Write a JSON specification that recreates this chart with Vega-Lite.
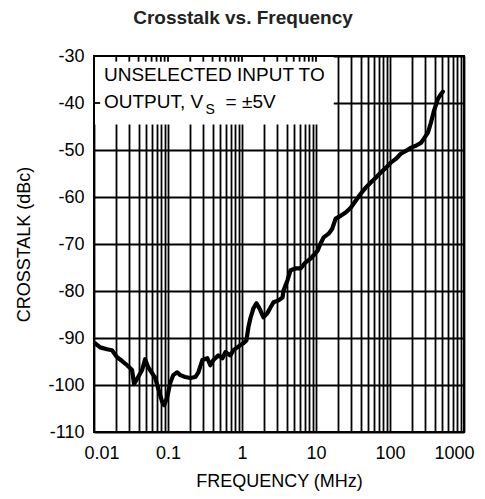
{
  "$schema": "https://vega.github.io/schema/vega-lite/v6.json",
  "autosize": {"type": "none"},
  "width": 370,
  "height": 376,
  "padding": {"left": 94, "top": 56, "right": 21, "bottom": 67},
  "background": "white",
  "view": {"stroke": null},
  "config": {
    "font": "Liberation Sans",
    "axis": {"labelFont": "Liberation Sans", "titleFont": "Liberation Sans", "labelColor": "black", "titleColor": "black", "titleFontWeight": "normal"}
  },
  "title": {"text": "Crosstalk vs. Frequency", "font": "Liberation Sans", "fontSize": 19, "fontWeight": "bold", "color": "#222", "anchor": "middle", "dx": -36, "baseline": "bottom", "offset": 0},
  "datasets": {
    "curve": [
      {"f": 0.0103, "db": -91.1}, {"f": 0.0121, "db": -92.0}, {"f": 0.0150, "db": -92.4}, {"f": 0.0175, "db": -92.6},
      {"f": 0.0205, "db": -94.1}, {"f": 0.0240, "db": -94.9}, {"f": 0.0280, "db": -95.8}, {"f": 0.0327, "db": -96.8},
      {"f": 0.0348, "db": -99.8}, {"f": 0.0395, "db": -98.3}, {"f": 0.0447, "db": -96.8}, {"f": 0.0491, "db": -94.5},
      {"f": 0.0539, "db": -96.2}, {"f": 0.0611, "db": -97.5}, {"f": 0.0671, "db": -98.5}, {"f": 0.0737, "db": -100.7},
      {"f": 0.0834, "db": -103.6}, {"f": 0.0888, "db": -104.3}, {"f": 0.0975, "db": -102.6}, {"f": 0.1071, "db": -99.6},
      {"f": 0.1176, "db": -97.9}, {"f": 0.1332, "db": -97.3}, {"f": 0.1463, "db": -97.9}, {"f": 0.171, "db": -98.3},
      {"f": 0.200, "db": -98.5}, {"f": 0.234, "db": -98.3}, {"f": 0.257, "db": -97.3}, {"f": 0.291, "db": -94.7},
      {"f": 0.340, "db": -94.3}, {"f": 0.373, "db": -95.8}, {"f": 0.410, "db": -94.7}, {"f": 0.479, "db": -93.7},
      {"f": 0.543, "db": -94.3}, {"f": 0.596, "db": -93.0}, {"f": 0.697, "db": -93.7}, {"f": 0.765, "db": -92.6},
      {"f": 0.866, "db": -92.0}, {"f": 0.951, "db": -91.5}, {"f": 1.045, "db": -91.1}, {"f": 1.147, "db": -90.5},
      {"f": 1.221, "db": -87.7}, {"f": 1.299, "db": -85.8}, {"f": 1.427, "db": -83.7}, {"f": 1.567, "db": -82.6},
      {"f": 1.721, "db": -83.7}, {"f": 1.950, "db": -85.6}, {"f": 2.209, "db": -84.7}, {"f": 2.426, "db": -83.5},
      {"f": 2.665, "db": -82.4}, {"f": 3.113, "db": -82.0}, {"f": 3.527, "db": -81.4}, {"f": 3.639, "db": -79.9},
      {"f": 4.123, "db": -77.7}, {"f": 4.527, "db": -75.6}, {"f": 5.291, "db": -75.2}, {"f": 6.184, "db": -75.2},
      {"f": 7.229, "db": -73.9}, {"f": 8.450, "db": -73.1}, {"f": 9.279, "db": -72.4}, {"f": 10.51, "db": -71.4},
      {"f": 11.54, "db": -69.9}, {"f": 12.68, "db": -68.6}, {"f": 14.82, "db": -67.8}, {"f": 16.5, "db": -66.8},
      {"f": 18.43, "db": -64.6}, {"f": 21.54, "db": -64.0}, {"f": 25.18, "db": -63.3}, {"f": 29.43, "db": -62.3},
      {"f": 34.40, "db": -60.8}, {"f": 40.21, "db": -59.3}, {"f": 47.00, "db": -58.0}, {"f": 54.94, "db": -56.9},
      {"f": 64.22, "db": -55.9}, {"f": 75.06, "db": -54.8}, {"f": 87.74, "db": -53.8}, {"f": 102.5, "db": -52.7},
      {"f": 119.8, "db": -51.9}, {"f": 140.1, "db": -50.8}, {"f": 163.7, "db": -50.2}, {"f": 191.4, "db": -49.5},
      {"f": 223.7, "db": -49.1}, {"f": 261.5, "db": -48.5}, {"f": 287.1, "db": -47.6}, {"f": 325.3, "db": -46.3},
      {"f": 357.1, "db": -44.2}, {"f": 392.2, "db": -41.7}, {"f": 444.4, "db": -39.1}, {"f": 487.9, "db": -38.1},
      {"f": 519.4, "db": -37.6}
    ],
    "topticks": [
      {"f": 0.02}, {"f": 0.03}, {"f": 0.04}, {"f": 0.05}, {"f": 0.06}, {"f": 0.07}, {"f": 0.08}, {"f": 0.09}, {"f": 0.1},
      {"f": 0.2}, {"f": 0.3}, {"f": 0.4}, {"f": 0.5}, {"f": 0.6}, {"f": 0.7}, {"f": 0.8}, {"f": 0.9}, {"f": 1},
      {"f": 2}, {"f": 3}, {"f": 4}, {"f": 5}, {"f": 6}, {"f": 7}, {"f": 8}, {"f": 9}, {"f": 10}
    ],
    "notes": [
      {"t": "UNSELECTED INPUT TO", "f": 0.01365, "db": -34.0},
      {"t": "OUTPUT, V", "f": 0.01365, "db": -39.8},
      {"t": "= ±5V", "f": 0.6, "db": -39.8}
    ],
    "sub": [
      {"t": "S", "f": 0.322, "db": -41.4}
    ]
  },
  "layer": [
    {
      "data": {"values": [{"a": 1}]},
      "mark": {"type": "rect", "fill": "white", "stroke": null},
      "encoding": {
        "x": {"datum": 0.01, "type": "quantitative", "scale": {"type": "log", "domain": [0.01, 1000], "nice": false},
          "axis": {
            "values": [0.01,0.02,0.03,0.04,0.05,0.06,0.07,0.08,0.09,0.1,0.2,0.3,0.4,0.5,0.6,0.7,0.8,0.9,1,2,3,4,5,6,7,8,9,10,20,30,40,50,60,70,80,90,100,200,300,400,500,600,700,800,900,1000],
            "labelExpr": "indexof([0.01,0.1,1,10,100,1000], datum.value) >= 0 ? toString(datum.value) : ''",
            "title": "FREQUENCY (MHz)", "titleFontSize": 18, "titlePadding": 10,
            "labelFontSize": 18, "labelPadding": 12, "labelFlush": true, "labelFlushOffset": 10,
            "ticks": false, "domain": false, "grid": true, "gridColor": "black", "gridWidth": 1.8, "gridOpacity": 1
          }},
        "x2": {"datum": 17.4},
        "y": {"datum": -30, "type": "quantitative", "scale": {"domain": [-110, -30], "nice": false, "zero": false},
          "axis": {
            "values": [-110,-100,-90,-80,-70,-60,-50,-40,-30],
            "labelExpr": "toString(datum.value)",
            "title": "CROSSTALK (dBc)", "titleFontSize": 18, "titlePadding": 14,
            "labelFontSize": 18, "labelPadding": 10,
            "ticks": false, "domain": false, "grid": true, "gridColor": "black", "gridWidth": 1.8, "gridOpacity": 1
          }},
        "y2": {"datum": -44.6}
      }
    },
    {
      "data": {"name": "topticks"},
      "mark": {"type": "rule", "color": "black", "strokeWidth": 1.8},
      "encoding": {
        "x": {"field": "f", "type": "quantitative"},
        "y": {"datum": -30},
        "y2": {"datum": -31.2}
      }
    },
    {
      "data": {"values": [{"db": -40}]},
      "mark": {"type": "rule", "color": "black", "strokeWidth": 1.8},
      "encoding": {
        "x": {"datum": 0.01},
        "x2": {"datum": 0.0121},
        "y": {"field": "db", "type": "quantitative"}
      }
    },
    {
      "data": {"name": "curve"},
      "mark": {"type": "line", "color": "black", "strokeWidth": 4.2, "strokeJoin": "round", "strokeCap": "round"},
      "encoding": {
        "x": {"field": "f", "type": "quantitative"},
        "y": {"field": "db", "type": "quantitative"}
      }
    },
    {
      "data": {"name": "notes"},
      "mark": {"type": "text", "align": "left", "baseline": "middle", "fontSize": 19, "font": "Liberation Sans", "color": "black"},
      "encoding": {
        "x": {"field": "f", "type": "quantitative"},
        "y": {"field": "db", "type": "quantitative"},
        "text": {"field": "t"}
      }
    },
    {
      "data": {"name": "sub"},
      "mark": {"type": "text", "align": "left", "baseline": "middle", "fontSize": 14, "font": "Liberation Sans", "color": "black"},
      "encoding": {
        "x": {"field": "f", "type": "quantitative"},
        "y": {"field": "db", "type": "quantitative"},
        "text": {"field": "t"}
      }
    },
    {
      "data": {"values": [{"a": 1}]},
      "mark": {"type": "rect", "fill": null, "stroke": "black", "strokeWidth": 2},
      "encoding": {
        "x": {"datum": 0.01},
        "x2": {"datum": 1000},
        "y": {"datum": -110},
        "y2": {"datum": -30}
      }
    }
  ]
}
